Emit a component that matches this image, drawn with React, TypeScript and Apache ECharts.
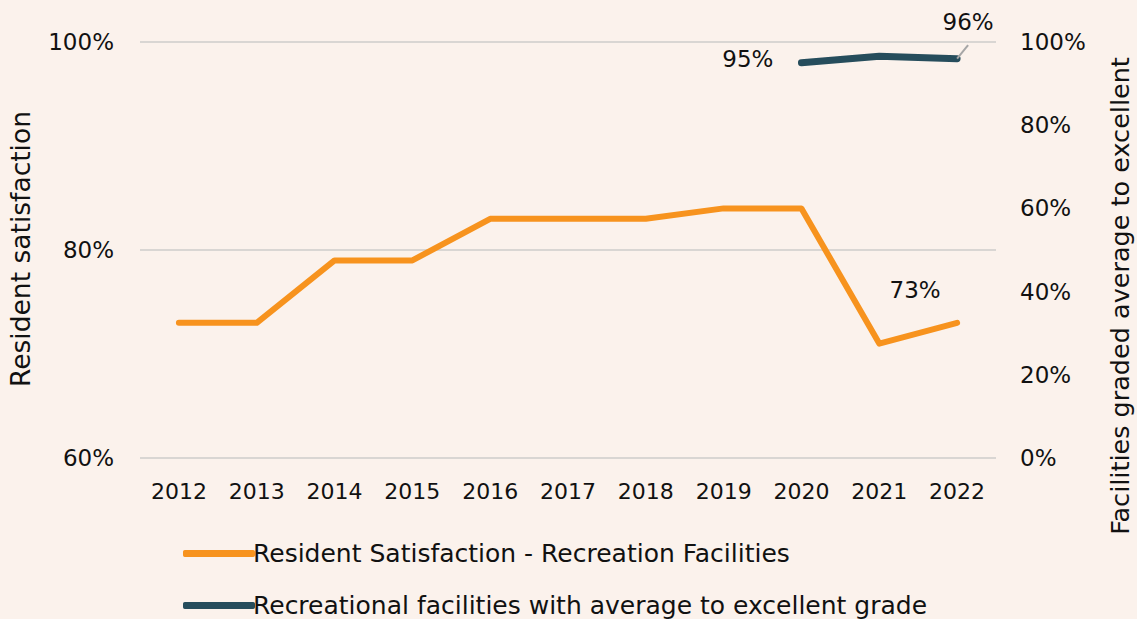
import React, { useEffect, useRef } from "react";
import * as echarts from "echarts";

const years = ["2012", "2013", "2014", "2015", "2016", "2017", "2018", "2019", "2020", "2021", "2022"];
const satisfaction = [73, 73, 79, 79, 83, 83, 83, 84, 84, 71, 73];
const facilities = [null, null, null, null, null, null, null, null, 95, 96.6, 96];
const leftTicks = [60, 80, 100];
const rightTicks = [0, 20, 40, 60, 80, 100];

const FONT = "DejaVu Sans";
const FS = 22;

const S1 = "Resident Satisfaction - Recreation Facilities";
const S2 = "Recreational facilities with average to excellent grade";

export default function App() {
  const ref = useRef<HTMLDivElement>(null);
  useEffect(() => {
    if (!ref.current) return;
    const chart = echarts.init(ref.current, null, { renderer: "svg" });
    const fmt = (p: any) => `${Math.round(p.value)}%`;
    const satData = satisfaction.map((v, i) =>
      i === satisfaction.length - 1
        ? { value: v, label: { show: true, position: "top", offset: [-42, -16], formatter: fmt } }
        : v
    );
    const facData = facilities.map((v, i) => {
      if (v === null) return null;
      if (i === 8)
        return { value: v, label: { show: true, position: "left", distance: 28, offset: [0, -4], formatter: fmt } };
      if (i === 10)
        return {
          value: v,
          label: { show: true, position: "top", offset: [11, -20], formatter: fmt },
          labelLine: { show: true },
        };
      return v;
    });
    const legendBase = {
      orient: "horizontal",
      left: 178,
      itemWidth: 72,
      itemHeight: 7,
      icon: "roundRect",
      textStyle: { fontSize: 25, color: "#111", fontFamily: FONT, padding: [0, 0, 0, -7] },
    };
    chart.setOption({
      animation: false,
      backgroundColor: "#FBF2EC",
      textStyle: { fontFamily: FONT },
      grid: { left: 140, right: 141, top: 42, bottom: 161 },
      legend: [
        { ...legendBase, top: 536, data: [{ name: S1, itemStyle: { color: "#F7931E" } }] },
        { ...legendBase, top: 588, data: [{ name: S2, itemStyle: { color: "#264D5C" } }] },
      ],
      xAxis: {
        type: "category",
        data: years,
        axisLine: { show: false },
        axisTick: { show: false },
        axisLabel: { fontSize: FS, color: "#111", margin: 22, fontFamily: FONT },
      },
      yAxis: [
        {
          type: "value",
          min: 60,
          max: 100,
          interval: 20,
          axisLabel: {
            fontSize: 23,
            color: "#111",
            margin: 26,
            fontFamily: FONT,
            formatter: (v: number) => (leftTicks.includes(v) ? `${v}%` : ""),
          },
          splitLine: { lineStyle: { color: "#D9D6D3", width: 2 } },
          axisLine: { show: false },
          axisTick: { show: false },
        },
        {
          type: "value",
          min: 0,
          max: 100,
          interval: 20,
          axisLabel: {
            fontSize: 23,
            color: "#111",
            margin: 24,
            fontFamily: FONT,
            formatter: (v: number) => (rightTicks.includes(v) ? `${v}%` : ""),
          },
          splitLine: { show: false },
          axisLine: { show: false },
          axisTick: { show: false },
        },
      ],
      graphic: [
        {
          type: "text",
          x: 20,
          y: 249,
          rotation: Math.PI / 2,
          style: {
            text: "Resident satisfaction",
            fontSize: 26.5,
            fill: "#111",
            fontFamily: FONT,
            align: "center",
            verticalAlign: "middle",
          },
        },
        {
          type: "text",
          x: 1120,
          y: 296,
          rotation: Math.PI / 2,
          style: {
            text: "Facilities graded average to excellent",
            fontSize: 25.5,
            fill: "#111",
            fontFamily: FONT,
            align: "center",
            verticalAlign: "middle",
          },
        },
      ],
      series: [
        {
          name: S1,
          type: "line",
          data: satData,
          yAxisIndex: 0,
          symbol: "circle",
          symbolSize: 0,
          lineStyle: { color: "#F7931E", width: 6, cap: "round", join: "round" },
          itemStyle: { color: "#F7931E" },
          label: { fontSize: 23, color: "#111", fontFamily: FONT },
        },
        {
          name: S2,
          type: "line",
          data: facData,
          yAxisIndex: 1,
          symbol: "circle",
          symbolSize: 0,
          connectNulls: false,
          lineStyle: { color: "#264D5C", width: 7, cap: "round", join: "round" },
          itemStyle: { color: "#264D5C" },
          label: { fontSize: 23, color: "#111", fontFamily: FONT },
          labelLine: { lineStyle: { color: "#A6A6A6", width: 2 } },
        },
      ],
    });
    return () => chart.dispose();
  }, []);
  return <div ref={ref} style={{ width: 1137, height: 619, position: "absolute", left: 0, top: 0 }} />;
}
